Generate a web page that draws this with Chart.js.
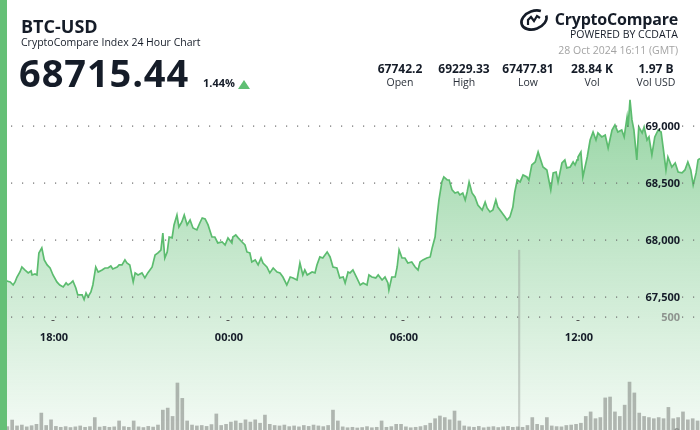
<!DOCTYPE html>
<html>
<head>
<meta charset="utf-8">
<script src="https://cdn.jsdelivr.net/npm/chart.js@4.4.1/dist/chart.umd.min.js"></script>
<style>
  html, body { margin:0; padding:0; background:#fff; }
  #wrap { position:relative; width:700px; height:430px; overflow:hidden; background:#fff; font-family:"Open Sans", "Noto Sans", sans-serif; color:#151c28; }
  #c { position:absolute; left:0; top:0; }
  .t { position:absolute; white-space:nowrap; line-height:1; }
  #leftbar { position:absolute; left:0; top:0; width:7px; height:430px; background:#65c077; }
  .col { position:absolute; width:64px; text-align:center; }
  .val { font-weight:700; font-size:12px; }
  .lab { font-size:10.5px; color:#2a303a; }
</style>
</head>
<body>
<div id="wrap">
  <canvas id="c" width="700" height="430"></canvas>
  <div id="leftbar"></div>
  <div class="t" style="left:21px;top:17px;font-size:18px;font-weight:700;">BTC-USD</div>
  <div class="t" style="left:21px;top:37px;font-size:10.5px;">CryptoCompare Index 24 Hour Chart</div>
  <div class="t" id="price" style="left:19px;top:53px;font-size:38px;font-weight:700;letter-spacing:0.9px;">68715.44</div>
  <div class="t" style="left:203px;top:77px;font-size:11px;font-weight:700;">1.44%</div>
  <div style="position:absolute;left:238px;top:80px;width:0;height:0;border-left:6px solid transparent;border-right:6px solid transparent;border-bottom:9px solid #5fbf73;"></div>

  <svg style="position:absolute;left:518px;top:8px" width="32" height="24" viewBox="0 0 32 24">
    <ellipse cx="16" cy="12" rx="13" ry="9" transform="rotate(-20 16 12)" fill="none" stroke="#151c28" stroke-width="2.6" stroke-dasharray="62 10"/>
    <path d="M10 17 L10 12 L13 9 L16 13 L19 8 L22 10" fill="none" stroke="#151c28" stroke-width="2.2"/>
  </svg>
  <div class="t" style="right:22px;top:11px;font-size:16px;font-weight:700;letter-spacing:-0.2px;">CryptoCompare</div>
  <div class="t" style="right:22px;top:29px;font-size:10.5px;">POWERED BY CCDATA</div>
  <div class="t" style="right:22px;top:45px;font-size:10.5px;color:#a3a3a3;">28 Oct 2024 16:11 (GMT)</div>

  <div class="col t val" style="left:368px;top:63px;">67742.2</div>
  <div class="col t lab" style="left:368px;top:77px;">Open</div>
  <div class="col t val" style="left:432px;top:63px;">69229.33</div>
  <div class="col t lab" style="left:432px;top:77px;">High</div>
  <div class="col t val" style="left:496px;top:63px;">67477.81</div>
  <div class="col t lab" style="left:496px;top:77px;">Low</div>
  <div class="col t val" style="left:560px;top:63px;">28.84 K</div>
  <div class="col t lab" style="left:560px;top:77px;">Vol</div>
  <div class="col t val" style="left:624px;top:63px;">1.97 B</div>
  <div class="col t lab" style="left:624px;top:77px;">Vol USD</div>
</div>
<script>
// Time is minutes after 00:00 on 27 Oct 2024 (GMT); 971 = 16:11, 2411 = 16:11 on 28 Oct
const priceMinutes = [
  971,985,992,998,1002,1006,1012,1016,1022,1029,1035,1037,1043,1047,1051,1057,1062,1068,1074,1080,1088,1094,1101,1107,1111,1117,1121,1127,1131,1140,1144,1148,1152,1158,1162,1168,1173,1181,1187,1193,1199,1203,1212,1216,
  1222,1228,1232,1238,1245,1249,1255,1263,1269,1275,1284,1290,1296,1302,1306,1310,1315,1319,1325,1329,1335,1339,1345,1350,1356,1362,1368,1376,1382,1387,1393,1399,1407,1413,1419,1428,1434,1440,1448,
  1450,1456,1461,1469,1475,1479,1485,1489,1496,1502,1508,1512,1520,1526,1533,1541,1547,1553,1561,1568,1574,1582,1588,1594,1598,1603,1613,1619,1623,1629,1635,1644,1650,1656,1664,1670,1677,1681,
  1687,1691,1697,1705,1712,1718,1726,1730,1736,1744,1749,1757,1763,1769,1771,1777,1784,1788,1792,1798,1804,1810,1818,1825,1831,1835,1841,1849,1856,1860,1866,1870,1874,1880,1884,1891,1895,1901,1907,1913,1917,1923,1928,
  1932,1936,1942,1948,1954,1963,1969,1973,1979,1985,1991,1995,2004,2010,2014,2020,2026,2030,2035,2041,2047,2055,2059,2065,2072,2078,2082,2088,2096,2100,2104,2109,2115,2119,2127,2133,2137,2144,2150,2154,2158,
  2160,2166,2170,2179,2185,2191,2197,2201,2209,2216,2222,2230,2236,2242,2250,2255,2261,2263,2267,2271,2275,2281,2285,2292,2296,2302,2306,2312,2318,2325,2331,2335,2341,2345,2353,2360,2366,2374,2380,2386,2392,2397,2403,2407,2411
];
const prices = [
  67742,67640,67632,67605,67632,67675,67719,67763,67737,67711,67728,67693,67702,67693,67886,67930,67825,67781,67754,67693,67632,67605,67588,67623,67605,67623,67640,67579,67518,67518,67478,67535,67500,67544,67605,67763,67719,67737,67754,67754,67772,67746,67763,67781,
  67781,67825,67798,67781,67632,67711,67693,67711,67667,67711,67763,67868,67886,67912,68061,67842,67895,68026,68018,68132,68219,68114,68158,68219,68132,68175,68105,68088,68149,68193,68184,68132,68026,68026,67974,67982,67956,68018,67974,
  68026,68044,68018,67982,67956,67895,67886,67807,67825,67781,67842,67798,67763,67711,67754,67719,67711,67675,67605,67675,67667,67649,67798,67693,67737,67693,67719,67711,67781,67851,67842,67895,67851,67763,67754,67667,67675,67623,
  67719,67711,67737,67667,67605,67623,67605,67693,67675,67667,67693,67649,67675,67623,67561,67675,67675,67763,67912,67842,67842,67798,67807,67763,67737,67807,67825,67842,67851,67930,68026,68202,68351,68509,68553,68526,68526,68439,68412,68421,68395,68412,68351,
  68421,68509,68412,68377,68307,68263,68333,68281,68246,68263,68351,68289,68237,68202,68175,68202,68289,68421,68526,68509,68570,68553,68526,68658,68684,68772,68719,68640,68614,68526,68439,68588,68596,68509,68675,68702,68632,68640,68684,68658,68702,
  68728,68772,68553,68728,68877,68947,68877,68939,68904,68921,68807,68965,69009,68947,68965,68904,69079,68991,69229,69053,68965,68702,68991,68939,68991,68877,68904,68746,68904,68965,68947,68816,68614,68728,68640,68675,68596,68588,68614,68684,68614,68482,68588,68702,68715.44
];
const volumeMinutes = [
  976,986,996,1006,1016,1026,1036,1046,1056,1066,
  1076,1086,1096,1106,1116,1126,1136,1146,1156,1166,
  1176,1186,1196,1206,1216,1226,1236,1246,1256,1266,
  1276,1286,1296,1306,1316,1326,1336,1346,1356,1366,
  1376,1386,1396,1406,1416,1426,1436,1446,1456,1466,
  1476,1486,1496,1506,1516,1526,1536,1546,1556,1566,
  1576,1586,1596,1606,1616,1626,1636,1646,1656,1666,
  1676,1686,1696,1706,1716,1726,1736,1746,1756,1766,
  1776,1786,1796,1806,1816,1826,1836,1846,1856,1866,
  1876,1886,1896,1906,1916,1926,1936,1946,1956,1966,
  1976,1986,1996,2006,2016,2026,2036,2046,2056,2066,
  2076,2086,2096,2106,2116,2126,2136,2146,2156,2166,
  2176,2186,2196,2206,2216,2226,2236,2246,2256,2266,
  2276,2286,2296,2306,2316,2326,2336,2346,2356,2366,
  2376,2386,2396,2406
];
const volumes = [
  20,15,44,18,22,14,19,25,75,20,
  45,16,12,15,11,14,18,12,15,55,
  13,16,12,14,40,15,12,40,14,11,
  16,13,22,88,97,60,208,140,40,22,
  18,20,16,24,71,20,25,35,40,30,
  45,35,45,30,66,25,20,18,22,15,
  18,14,20,16,22,18,15,20,88,40,
  14,10,12,9,11,15,10,12,40,12,
  15,25,25,14,10,12,15,20,30,50,
  62,55,45,84,40,18,14,12,16,10,
  13,15,11,14,16,12,14,12,20,55,
  25,20,55,18,15,14,20,22,25,30,
  60,80,50,55,142,146,80,60,110,212,
  164,75,60,55,50,55,50,100,50,55,
  80,45,50,40
];
const spikeMinutes = [2039];
const spikeVolumes = [796];

const xTickMinutes = [1080, 1440, 1800, 2160];
const xTickLabels = ['18:00', '00:00', '06:00', '12:00'];
const priceTicks = [67500, 68000, 68500, 69000];
const priceTickLabels = ['67,500', '68,000', '68,500', '69,000'];
const volumeTicks = [0, 500];
const volumeTickLabels = ['0', '500'];

const axesPlugin = {
  id: 'axesPlugin',
  afterDatasetsDraw(chart) {
    const ctx = chart.ctx;
    const xs = chart.scales.x, ys = chart.scales.y, yv = chart.scales.yVol;
    ctx.save();
    const gridYs = priceTicks.map(v => ys.getPixelForValue(v)).concat([yv.getPixelForValue(500)]);
    ctx.fillStyle = '#6d6d6d';
    gridYs.forEach(py => {
      const y = Math.round(py);
      for (let x = 11; x < 699; x += 11) {
        if (x > 643 && x < 681) continue;
        ctx.fillRect(x, y - 0.5, 1.2, 1.2);
      }
    });
    ctx.font = 'bold 11px "Open Sans"';
    ctx.textAlign = 'right';
    ctx.textBaseline = 'middle';
    ctx.fillStyle = '#151c28';
    priceTicks.forEach((v, i) => ctx.fillText(priceTickLabels[i], 680, ys.getPixelForValue(v) + 0.5));
    ctx.fillStyle = '#8e948f';
    volumeTicks.forEach((v, i) => {
      const py = yv.getPixelForValue(v);
      ctx.fillText(volumeTickLabels[i], 680, v === 0 ? py + 3 : py + 0.5);
    });
    ctx.textAlign = 'center';
    ctx.textBaseline = 'alphabetic';
    xTickMinutes.forEach((m, i) => {
      const px = xs.getPixelForValue(m);
      ctx.fillStyle = '#555';
      ctx.fillRect(px - 1.5, 320, 3, 1);
      ctx.fillStyle = '#151c28';
      ctx.fillText(xTickLabels[i], px + 1, 341);
    });
    ctx.restore();
  }
};

const ctx = document.getElementById('c').getContext('2d');
new Chart(ctx, {
  type: 'bar',
  data: {
    datasets: [
      {
        type: 'line',
        data: priceMinutes.map((m, i) => ({ x: m, y: prices[i] })),
        yAxisID: 'y',
        borderColor: '#5cbc6f',
        borderWidth: 1.7,
        pointRadius: 0,
        tension: 0,
        fill: 'start',
        order: 2,
        backgroundColor: (c) => {
          const a = c.chart.chartArea;
          if (!a) return 'rgba(95,190,115,0.3)';
          const g = c.chart.ctx.createLinearGradient(0, 90, 0, 430);
          g.addColorStop(0, 'rgba(95,190,115,0.68)');
          g.addColorStop(0.45, 'rgba(95,190,115,0.38)');
          g.addColorStop(1, 'rgba(95,190,115,0.08)');
          return g;
        }
      },
      {
        type: 'bar',
        data: volumeMinutes.map((m, i) => ({ x: m, y: volumes[i] })),
        yAxisID: 'yVol',
        backgroundColor: 'rgba(135,141,135,0.62)',
        barThickness: 3,
        grouped: false,
        order: 0
      },
      {
        type: 'bar',
        data: spikeMinutes.map((m, i) => ({ x: m, y: spikeVolumes[i] })),
        yAxisID: 'yVol',
        backgroundColor: 'rgba(150,156,150,0.45)',
        barThickness: 1.5,
        grouped: false,
        order: 1
      }
    ]
  },
  options: {
    responsive: false,
    animation: false,
    events: [],
    layout: { padding: 0 },
    plugins: { legend: { display: false }, tooltip: { enabled: false } },
    scales: {
      x: { type: 'linear', min: 971, max: 2411, display: false, offset: false },
      y: { type: 'linear', min: 66333, max: 70105, display: false },
      yVol: { type: 'linear', min: 0, max: 1903, display: false }
    }
  },
  plugins: [axesPlugin]
});
</script>
</body>
</html>
